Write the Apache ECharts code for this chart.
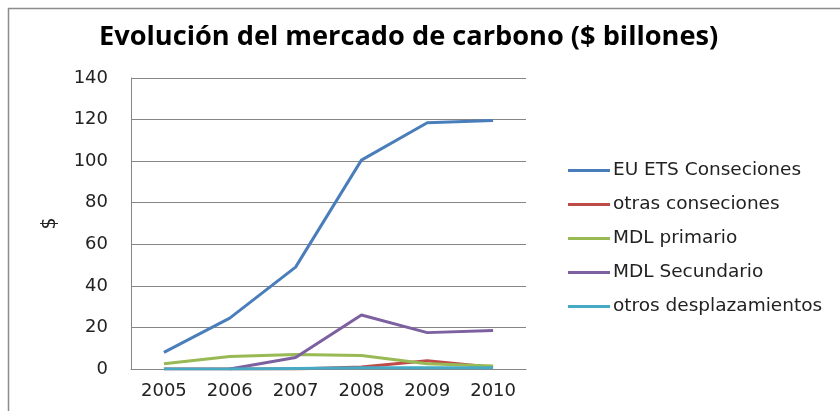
<!DOCTYPE html>
<html><head><meta charset="utf-8">
<script src="https://cdn.jsdelivr.net/npm/echarts@6/dist/echarts.min.js"></script>
<style>html,body{margin:0;padding:0;background:#fff}#c{width:840px;height:411px}</style>
</head><body><div id="c"></div>
<script>
const years = ['2005','2006','2007','2008','2009','2010'];
const euEts = [8, 24.5, 49, 100.5, 118.5, 119.5];
const otrasConseciones = [0, 0, 0, 1, 4, 0.8];
const mdlPrimario = [2.5, 6, 7, 6.5, 2.5, 1.5];
const mdlSecundario = [null, 0, 5.5, 26, 17.5, 18.5];
const otrosDespl = [0, 0, 0.3, 0.6, 0.6, 0.6];
const seriesNames = ['EU ETS Conseciones','otras conseciones','MDL primario','MDL Secundario','otros desplazamientos'];
const colors = ['#4A7EBB','#BE4B48','#98B954','#7D60A0','#46AAC5'];
const dataSets = [euEts, otrasConseciones, mdlPrimario, mdlSecundario, otrosDespl];
const font = '"DejaVu Sans", sans-serif';
const titleFont = '"Open Sans", sans-serif';
const chart = echarts.init(document.getElementById('c'));
chart.setOption({
  animation: false,
  graphic: [{type:'rect', shape:{x:8.5,y:8.5,width:900,height:500}, style:{fill:'none',stroke:'#8c8c8c',lineWidth:1.5}, silent:true}],
  title: {text:'Evolución del mercado de carbono ($ billones)', left:94, top:19,
    textStyle:{fontFamily:titleFont, fontSize:27.2, fontWeight:'bold', color:'#000'}},
  legend: {orient:'vertical', left:563, top:156, itemWidth:42, itemHeight:3, itemGap:15, icon:'rect',
    data: seriesNames,
    textStyle:{fontFamily:font, fontSize:18.5, color:'#222', padding:[0,0,0,-2]}},
  grid: {left:131, top:78, width:395, height:291},
  xAxis: {type:'category', data:years, boundaryGap:true,
    axisLine:{lineStyle:{color:'#868686'}}, axisTick:{show:false},
    axisLabel:{fontFamily:font, fontSize:18, color:'#222', margin:13}},
  yAxis: {type:'value', min:0, max:140, interval:20, name:'$', nameLocation:'middle', nameGap:71, nameRotate:90,
    nameTextStyle:{fontFamily:font, fontSize:19, color:'#222'},
    axisLine:{show:true, lineStyle:{color:'#868686'}}, axisTick:{show:false},
    splitLine:{lineStyle:{color:'#868686'}},
    axisLabel:{fontFamily:font, fontSize:18, color:'#222', margin:23}},
  series: dataSets.map((d,i)=>({name:seriesNames[i], type:'line', data:d, symbol:'none',
    lineStyle:{width:3, color:colors[i]}, itemStyle:{color:colors[i]}, z: i===4?5:2}))
});
</script></body></html>
